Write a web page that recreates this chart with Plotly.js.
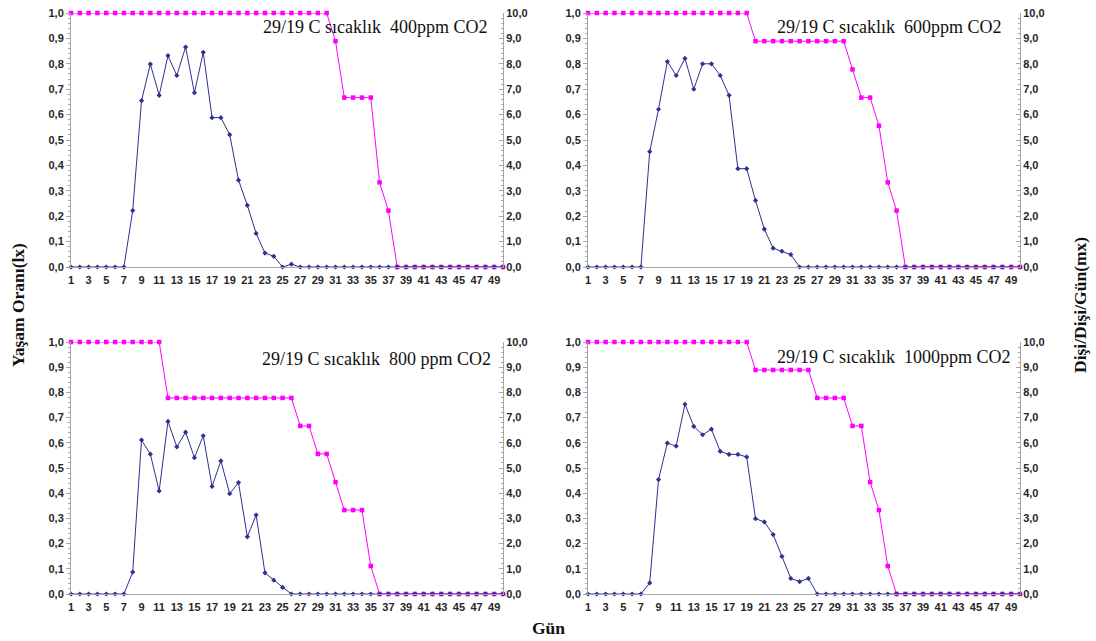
<!DOCTYPE html>
<html>
<head>
<meta charset="utf-8">
<script src="https://cdn.plot.ly/plotly-3.0.1.min.js"></script>
<style>html,body{margin:0;padding:0;background:#fff;}#chart{width:1096px;height:641px;}</style>
</head>
<body>
<div id="chart"></div>
<script>
// Days
const days = Array.from({length: 50}, (_, i) => i + 1);

// Panel titles
const titles = [
  "29/19 C sıcaklık\u00a0 400ppm CO2",
  "29/19 C sıcaklık\u00a0 600ppm CO2",
  "29/19 C sıcaklık\u00a0 800 ppm CO2",
  "29/19 C sıcaklık\u00a0 1000ppm CO2"
];

// lx (survival rate, left axis)
const lx400 = [1,1,1,1,1,1,1,1,1,1, 1,1,1,1,1,1,1,1,1,1, 1,1,1,1,1,1,1,1,1,1,
  0.889,0.667,0.667,0.667,0.667,0.333,0.222,0,0,0, 0,0,0,0,0,0,0,0,0,0];
const lx600 = [1,1,1,1,1,1,1,1,1,1, 1,1,1,1,1,1,1,1,1,0.889,
  0.889,0.889,0.889,0.889,0.889,0.889,0.889,0.889,0.889,0.889,
  0.778,0.667,0.667,0.556,0.333,0.222,0,0,0,0, 0,0,0,0,0,0,0,0,0,0];
const lx800 = [1,1,1,1,1,1,1,1,1,1, 1,0.778,0.778,0.778,0.778,0.778,0.778,0.778,0.778,0.778,
  0.778,0.778,0.778,0.778,0.778,0.778,0.667,0.667,0.556,0.556,
  0.444,0.333,0.333,0.333,0.111,0,0,0,0,0, 0,0,0,0,0,0,0,0,0,0];
const lx1000 = [1,1,1,1,1,1,1,1,1,1, 1,1,1,1,1,1,1,1,1,0.889,
  0.889,0.889,0.889,0.889,0.889,0.889,0.778,0.778,0.778,0.778,
  0.667,0.667,0.444,0.333,0.111,0,0,0,0,0, 0,0,0,0,0,0,0,0,0,0];

// mx (female/female/day, right axis)
const mx400 = [0,0,0,0,0,0,0,2.22,6.55,7.99, 6.76,8.32,7.54,8.66,6.86,8.45,5.88,5.88,5.21,3.42,
  2.43,1.32,0.55,0.42,0,0.11,0,0,0,0, 0,0,0,0,0,0,0,0,0,0, 0,0,0,0,0,0,0,0,0,0];
const mx600 = [0,0,0,0,0,0,0,4.54,6.21,8.09, 7.54,8.21,7.00,8.00,8.00,7.54,6.76,3.87,3.87,2.62,
  1.49,0.74,0.62,0.49,0,0,0,0,0,0, 0,0,0,0,0,0,0,0,0,0, 0,0,0,0,0,0,0,0,0,0];
const mx800 = [0,0,0,0,0,0,0,0.87,6.11,5.55, 4.09,6.85,5.84,6.42,5.41,6.28,4.27,5.28,3.98,4.42,
  2.27,3.13,0.84,0.55,0.26,0,0,0,0,0, 0,0,0,0,0,0,0,0,0,0, 0,0,0,0,0,0,0,0,0,0];
const mx1000 = [0,0,0,0,0,0,0,0.44,4.54,5.99, 5.87,7.53,6.65,6.32,6.54,5.66,5.54,5.54,5.44,2.99,
  2.86,2.36,1.49,0.62,0.49,0.62,0,0,0,0, 0,0,0,0,0,0,0,0,0,0, 0,0,0,0,0,0,0,0,0,0];

const lxSeries = [lx400, lx600, lx800, lx1000];
const mxSeries = [mx400, mx600, mx800, mx1000];

const W = 1096, H = 641;
// panel pixel boxes [x0, x1, yTop, yBottom]
const boxes = [
  [71, 503, 13, 267],
  [588, 1020, 13, 267],
  [71, 503, 342, 594],
  [588, 1020, 342, 594]
];
const titlePos = [[490, 27], [1004, 27], [493, 359], [1013, 357]];

const MAG = '#FF00FF', NAVY = '#2E3192', GRID = '#A6A6A6';
const tickFont = {family: 'Liberation Sans, Arial, sans-serif', size: 11, color: '#262626', weight: 'bold'};
const serif = 'Liberation Serif, Times New Roman, serif';

const data = [];
const layout = {
  width: W, height: H,
  margin: {l: 0, r: 0, t: 0, b: 0},
  paper_bgcolor: '#fff', plot_bgcolor: '#fff',
  separators: ',.',
  showlegend: false,
  annotations: []
};

boxes.forEach((b, i) => {
  const n = i + 1;
  const xa = n === 1 ? 'x' : 'x' + n;
  const yl = 2 * n - 1, yr = 2 * n;
  const ylName = yl === 1 ? 'y' : 'y' + yl;
  const yrName = 'y' + yr;
  const xdom = [b[0] / W, b[1] / W];
  const ydom = [1 - b[3] / H, 1 - b[2] / H];

  layout[n === 1 ? 'xaxis' : 'xaxis' + n] = {
    domain: xdom, anchor: ylName, range: [1, 50],
    tick0: 1, dtick: 2, ticks: '', showgrid: false, zeroline: false,
    showline: true, linecolor: GRID, linewidth: 1,
    tickfont: tickFont, ticklabelstandoff: 3
  };
  layout[yl === 1 ? 'yaxis' : 'yaxis' + yl] = {
    domain: ydom, anchor: xa, range: [0, 1], dtick: 0.1, tickformat: '.1f',
    showgrid: false, zeroline: false, showline: true, linecolor: GRID, linewidth: 1,
    ticks: 'outside', ticklen: 4, tickcolor: GRID,
    minor: {dtick: 0.02, ticks: 'outside', ticklen: 2, tickcolor: GRID, showgrid: false},
    tickfont: tickFont
  };
  layout['yaxis' + yr] = {
    overlaying: ylName, side: 'right', anchor: xa, range: [0, 10], dtick: 1, tickformat: '.1f',
    showgrid: false, zeroline: false, showline: true, linecolor: GRID, linewidth: 1,
    ticks: 'inside', ticklen: 4, tickcolor: GRID,
    minor: {dtick: 0.2, ticks: 'inside', ticklen: 2, tickcolor: GRID, showgrid: false},
    tickfont: tickFont
  };

  data.push({
    x: days, y: lxSeries[i], xaxis: xa, yaxis: ylName, type: 'scatter', mode: 'lines+markers',
    line: {color: MAG, width: 1}, marker: {symbol: 'square', size: 4.5, color: MAG},
    cliponaxis: false, hoverinfo: 'skip'
  });
  data.push({
    x: days, y: mxSeries[i], xaxis: xa, yaxis: yrName, type: 'scatter', mode: 'lines+markers',
    line: {color: NAVY, width: 1}, marker: {symbol: 'diamond', size: 4, color: NAVY},
    cliponaxis: false, hoverinfo: 'skip'
  });

  layout.annotations.push({
    xref: 'paper', yref: 'paper', x: titlePos[i][0] / W, y: 1 - titlePos[i][1] / H,
    xanchor: 'right', yanchor: 'middle', showarrow: false, text: titles[i],
    font: {family: serif, size: 18, color: '#111'}
  });
});

layout.annotations.push({
  xref: 'paper', yref: 'paper', x: 18 / W, y: 1 - 305 / H, xanchor: 'center', yanchor: 'middle',
  textangle: -90, showarrow: false, text: 'Yaşam Oranı(lx)',
  font: {family: serif, size: 17.5, color: '#111', weight: 'bold'}
});
layout.annotations.push({
  xref: 'paper', yref: 'paper', x: 1080 / W, y: 1 - 305 / H, xanchor: 'center', yanchor: 'middle',
  textangle: -90, showarrow: false, text: 'Dişi/Dişi/Gün(mx)',
  font: {family: serif, size: 17.5, color: '#111', weight: 'bold'}
});
layout.annotations.push({
  xref: 'paper', yref: 'paper', x: 548 / W, y: 1 - 628 / H, xanchor: 'center', yanchor: 'middle',
  showarrow: false, text: 'Gün',
  font: {family: serif, size: 17.5, color: '#111', weight: 'bold'}
});

Plotly.newPlot('chart', data, layout, {staticPlot: true, displayModeBar: false});
</script>
</body>
</html>
